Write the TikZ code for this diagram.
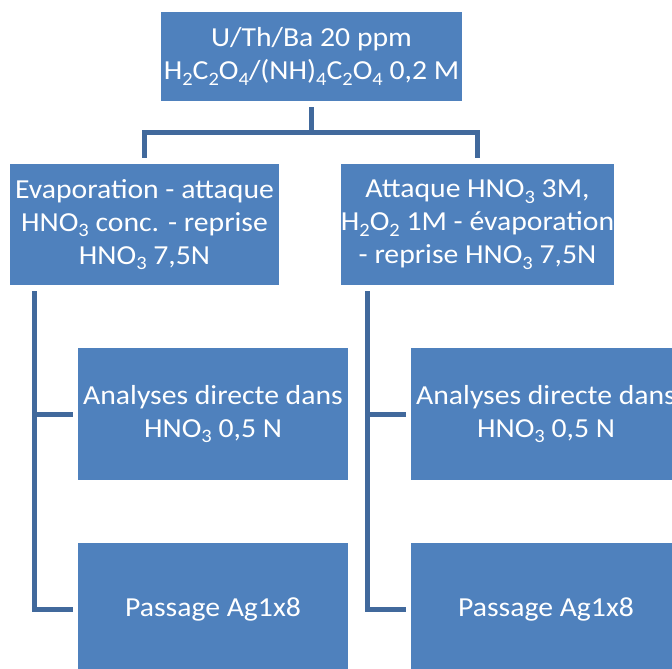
\documentclass[tikz,border=0pt]{standalone}
\usepackage{fontspec}
\setmainfont{Carlito}[FakeStretch=1.08]
\definecolor{boxblue}{RGB}{79,129,189}
\definecolor{linkblue}{RGB}{65,105,156}
\newcommand\dn[1]{\raisebox{-5.5pt}{\fontsize{19}{19}\selectfont #1}}
\tikzset{
  box/.style={rectangle, fill=boxblue, draw=none, text=white, align=center,
    inner sep=0pt, font=\fontsize{27.5}{33}\selectfont},
  conn/.style={draw=linkblue, line width=5pt, line join=miter}
}
\begin{document}
\begin{tikzpicture}[x=1pt,y=-1pt]
\useasboundingbox (0,0) rectangle (672,669);
\fill[white] (0,0) rectangle (672,669);
\clip (0,0) rectangle (672,669);
\node[box, minimum width=301pt, minimum height=89pt] (top) at (311.5,56.5)
  {U/Th/Ba 20 ppm\\H\dn{2}C\dn{2}O\dn{4}/(NH)\dn{4}C\dn{2}O\dn{4} 0,2 M};
\node[box, minimum width=269pt, minimum height=121pt] (l2a) at (144.5,224.5)
  {Evaporation - attaque\\HNO\dn{3} conc. - reprise\\HNO\dn{3} 7,5N};
\node[box, minimum width=269pt, minimum height=121pt] (l2b) at (477.5,224.5)
  {Attaque HNO\dn{3} 3M,\\H\dn{2}O\dn{2} 1M - évaporation\\- reprise HNO\dn{3} 7,5N};
\node[box, minimum width=270pt, minimum height=132pt] (l3a1) at (213,414)
  {Analyses directe dans\\HNO\dn{3} 0,5 N};
\node[box, minimum width=270pt, minimum height=132pt] (l3a2) at (213,609)
  {Passage Ag1x8};
\node[box, minimum width=270pt, minimum height=132pt] (l3b1) at (546,414)
  {Analyses directe dans\\HNO\dn{3} 0,5 N};
\node[box, minimum width=270pt, minimum height=132pt] (l3b2) at (546,609)
  {Passage Ag1x8};
\coordinate (bus) at (311.5,132.5);
\coordinate (spineA) at (34.5,291);
\coordinate (spineB) at (367.5,291);
\draw[conn] ([yshift=-6pt]top.south) -- (bus);
\draw[conn] ([yshift=6pt]l2a.north) |- (l2b.north |- bus) -- ([yshift=6pt]l2b.north);
\draw[conn] (spineA) |- ([xshift=-5pt]l3a2.west);
\draw[conn] (spineA |- l3a1.west) -- ([xshift=-5pt]l3a1.west);
\draw[conn] (spineB) |- ([xshift=-5pt]l3b2.west);
\draw[conn] (spineB |- l3b1.west) -- ([xshift=-5pt]l3b1.west);
\end{tikzpicture}
\end{document}
